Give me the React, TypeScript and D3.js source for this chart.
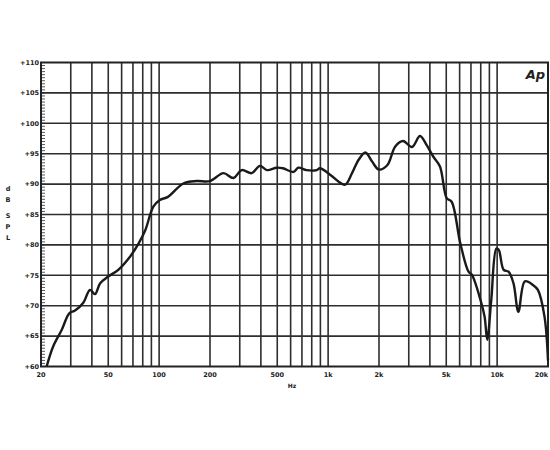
import React, { useEffect, useRef } from "react";
import * as d3 from "d3";

// frequency response
const freqHz = [
  21.6, 23.6, 26.5, 29.4, 31.8, 35.6, 39, 41.7, 44.8, 50, 57.3, 67.4, 75.8, 82.8,
  92.4, 101, 112.7, 139, 166.5, 200, 240, 275, 308, 353, 395, 435, 496, 540, 624,
  667, 745, 856, 894, 1032, 1155, 1263, 1385, 1516, 1661, 1820, 1993, 2237, 2496,
  2775, 3133, 3496, 3830, 4195, 4590, 5030, 5380, 6050, 6770, 7085, 7980, 8430,
  8740, 9230, 9900, 10220, 10930, 11680, 12490, 13360, 14600, 16310, 17430, 19070,
  20000,
];
const splDb = [
  60, 63.3, 66, 68.75, 69.2, 70.5, 72.6, 71.9, 73.7, 74.8, 75.9, 78.1, 80.3, 82.4,
  86.3, 87.4, 87.9, 90.1, 90.5, 90.5, 91.8, 91, 92.3, 91.8, 93, 92.3, 92.7, 92.6, 92,
  92.7, 92.3, 92.3, 92.6, 91.5, 90.4, 89.9, 91.8, 94, 95.2, 93.7, 92.4, 93.1, 96.2,
  97.1, 96.1, 97.9, 96.4, 94.5, 92.9, 87.7, 87.1, 80.3, 75.6, 75.1, 70.9, 68.2,
  64.4, 70.9, 79.4, 79.2, 75.9, 75.6, 73.7, 69, 74, 73.4, 72.6, 68.2, 61,
];

const xTickValues = [20, 50, 100, 200, 500, 1000, 2000, 5000, 10000, 20000];
const xTickLabels = ["20", "50", "100", "200", "500", "1k", "2k", "5k", "10k", "20k"];
const yTickValues = [60, 65, 70, 75, 80, 85, 90, 95, 100, 105, 110];
const yLabelLetters = ["d", "B", "S", "P", "L"];

const App = () => {
  const svgRef = useRef<SVGSVGElement>(null);

  useEffect(() => {
    const svg = d3.select(svgRef.current);
    svg.selectAll("*").remove();

    const left = 41;
    const right = 548;
    const top = 62.5;
    const bottom = 366.5;
    const gridColor = "#2e2e2e";
    const font = "'DejaVu Sans', sans-serif";

    const x = d3.scaleLog().domain([20, 20000]).range([left, right]);
    const y = d3.scaleLinear().domain([60, 110]).range([bottom, top]);

    // vertical grid: 1-2-3..9 per decade
    const vLines: number[] = [];
    [10, 100, 1000, 10000].forEach((dec) => {
      for (let k = 1; k <= 9; k++) {
        const f = dec * k;
        if (f > 20 && f < 20000) vLines.push(f);
      }
    });

    const grid = svg.append("g");
    grid
      .selectAll("line.v")
      .data(vLines)
      .join("line")
      .attr("x1", (d) => x(d))
      .attr("x2", (d) => x(d))
      .attr("y1", top)
      .attr("y2", bottom)
      .attr("stroke", gridColor)
      .attr("stroke-width", 1.6);

    grid
      .selectAll("line.h")
      .data(yTickValues.slice(1, -1))
      .join("line")
      .attr("x1", left)
      .attr("x2", right)
      .attr("y1", (d) => y(d))
      .attr("y2", (d) => y(d))
      .attr("stroke", gridColor)
      .attr("stroke-width", 1.6);

    // minor ticks on the left edge
    const minor = d3.range(60, 110.01, 0.5);
    grid
      .selectAll("line.m")
      .data(minor)
      .join("line")
      .attr("x1", left)
      .attr("x2", left + 4)
      .attr("y1", (d) => y(d))
      .attr("y2", (d) => y(d))
      .attr("stroke", gridColor)
      .attr("stroke-width", 0.8);

    // frame
    svg
      .append("rect")
      .attr("x", left)
      .attr("y", top)
      .attr("width", right - left)
      .attr("height", bottom - top)
      .attr("fill", "none")
      .attr("stroke", "#222")
      .attr("stroke-width", 2);

    // y labels
    svg
      .append("g")
      .selectAll("text")
      .data(yTickValues)
      .join("text")
      .attr("x", left - 2)
      .attr("y", (d) => y(d))
      .attr("dy", "0.35em")
      .attr("text-anchor", "end")
      .attr("font-family", font)
      .attr("font-size", 6.5)
      .attr("font-weight", "bold")
      .attr("fill", "#222")
      .text((d) => "+" + d);

    // x labels (last one pulled in so it stays on the page)
    svg
      .append("g")
      .selectAll("text")
      .data(xTickValues)
      .join("text")
      .attr("x", (d) => Math.min(x(d), 549))
      .attr("y", bottom + 10)
      .attr("text-anchor", (d) => (x(d) > 545 ? "end" : "middle"))
      .attr("font-family", font)
      .attr("font-size", 6.5)
      .attr("font-weight", "bold")
      .attr("fill", "#222")
      .text((d, i) => xTickLabels[i]);

    svg
      .append("text")
      .attr("x", 292)
      .attr("y", bottom + 21)
      .attr("text-anchor", "middle")
      .attr("font-family", font)
      .attr("font-size", 6)
      .attr("font-weight", "bold")
      .attr("fill", "#222")
      .text("Hz");

    // "dB SPL" stacked letters
    svg
      .append("g")
      .selectAll("text")
      .data(yLabelLetters)
      .join("text")
      .attr("x", 8)
      .attr("y", (d, i) => 191 + i * 11 + (i >= 2 ? 5 : 0))
      .attr("text-anchor", "middle")
      .attr("font-family", font)
      .attr("font-size", 6.5)
      .attr("font-weight", "bold")
      .attr("fill", "#222")
      .text((d) => d);

    // logo
    svg
      .append("text")
      .attr("x", 545)
      .attr("y", 79)
      .attr("text-anchor", "end")
      .attr("font-family", font)
      .attr("font-size", 13)
      .attr("font-weight", "bold")
      .attr("font-style", "italic")
      .attr("fill", "#222")
      .text("Ap");

    const pts = freqHz.map((f, i) => [f, splDb[i]] as [number, number]);
    const line = d3
      .line<[number, number]>()
      .x((d) => x(d[0]))
      .y((d) => y(d[1]))
      .curve(d3.curveCatmullRom.alpha(0.5));

    svg
      .append("path")
      .datum(pts)
      .attr("d", line)
      .attr("fill", "none")
      .attr("stroke", "#1a1a1a")
      .attr("stroke-width", 2.4)
      .attr("stroke-linejoin", "round");
  }, []);

  return (
    <svg
      ref={svgRef}
      width={550}
      height={450}
      style={{ position: "absolute", left: 0, top: 0, background: "#fff" }}
    ></svg>
  );
};

export default App;
